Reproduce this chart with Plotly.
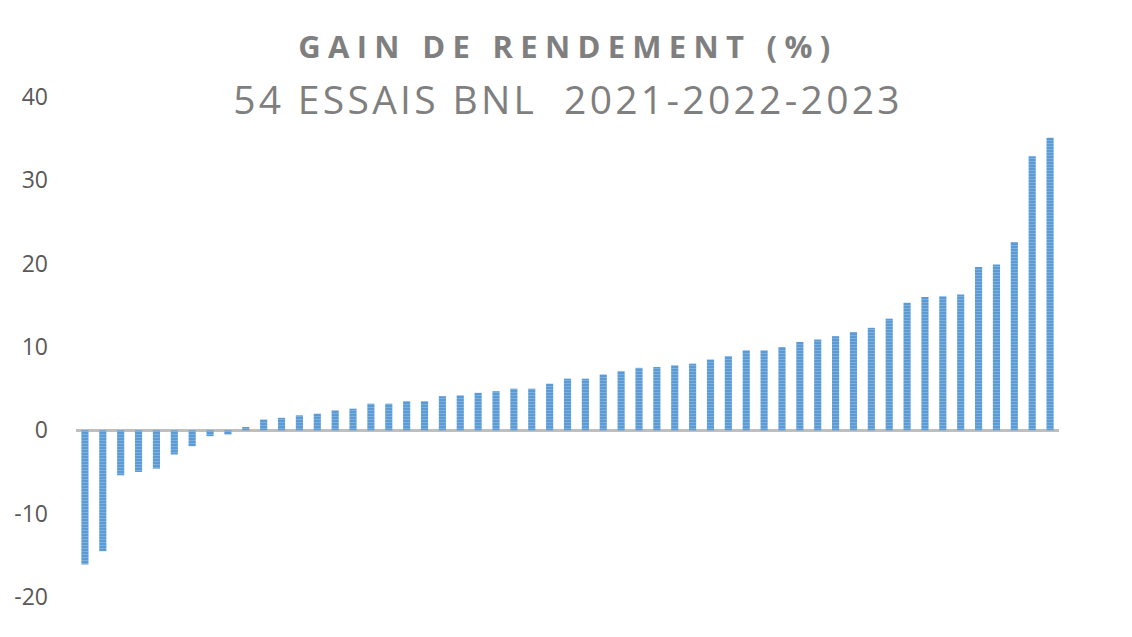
import plotly.graph_objects as go

# essais classés du plus faible au plus fort gain
essais = list(range(1, 56))
gains = [-16.1, -14.5, -5.4, -5.0, -4.6, -2.9, -1.9, -0.7, -0.5, 0.4,
         1.3, 1.5, 1.8, 2.0, 2.4, 2.6, 3.2, 3.2, 3.5, 3.5,
         4.1, 4.2, 4.5, 4.7, 5.0, 5.0, 5.6, 6.2, 6.2, 6.7,
         7.1, 7.5, 7.6, 7.8, 8.0, 8.5, 8.9, 9.6, 9.6, 10.0,
         10.6, 10.9, 11.3, 11.8, 12.3, 13.4, 15.3, 16.0, 16.1, 16.3,
         19.6, 19.9, 22.6, 32.9, 35.1]
yticks = [-20, -10, 0, 10, 20, 30, 40]
ylabels = ["-20", "-10", "0", "10", "20", "30", "40"]

titre = "GAIN DE RENDEMENT (%)"
sous_titre = "54 ESSAIS BNL  2021-2022-2023"

fig = go.Figure()
fig.add_trace(go.Bar(
    x=essais, y=gains,
    marker=dict(color="#5b9bd5", line=dict(width=0),
                pattern=dict(shape="-", fillmode="overlay", fgcolor="#a9cbeb",
                             size=3, solidity=0.3)),
    hoverinfo="skip",
))

# la page a une marge de 8 px, d'ou la taille reduite
fig.update_layout(
    width=1124, height=629,
    margin=dict(l=68, r=73, t=89, b=40),
    plot_bgcolor="white", paper_bgcolor="white",
    bargap=0.6,
    showlegend=False,
    font=dict(family="Open Sans", color="#595959"),
    xaxis=dict(type="category", showticklabels=False, showgrid=False,
               showline=False, ticks="", automargin=False),
    yaxis=dict(range=[-20, 40], tickvals=yticks, ticktext=ylabels, showgrid=False,
               zeroline=True, zerolinecolor="#bfbfbf", zerolinewidth=3,
               showline=False, ticks="", ticklabelstandoff=27, automargin=False,
               tickfont=dict(size=23, color="#595959")),
    annotations=[
        dict(text="<b>" + titre + "</b>", x=0.5, y=1.102, xref="paper", yref="paper",
             xanchor="center", yanchor="middle", showarrow=False, name="titre",
             font=dict(family="Open Sans", size=31, color="#7f7f7f")),
        dict(text=sous_titre, x=0.5, y=0.998, xref="paper", yref="paper",
             xanchor="center", yanchor="middle", showarrow=False, name="sous_titre",
             font=dict(family="Open Sans", size=39, color="#7f7f7f")),
    ],
)

# espacement des lettres du titre comme dans l'original
js = """
var t = document.querySelectorAll('.annotation-text');
if (t.length > 1) { t[0].style.letterSpacing = '7.3px'; t[1].style.letterSpacing = '3.3px'; }
"""

fig.write_html("out.html", post_script=js)
